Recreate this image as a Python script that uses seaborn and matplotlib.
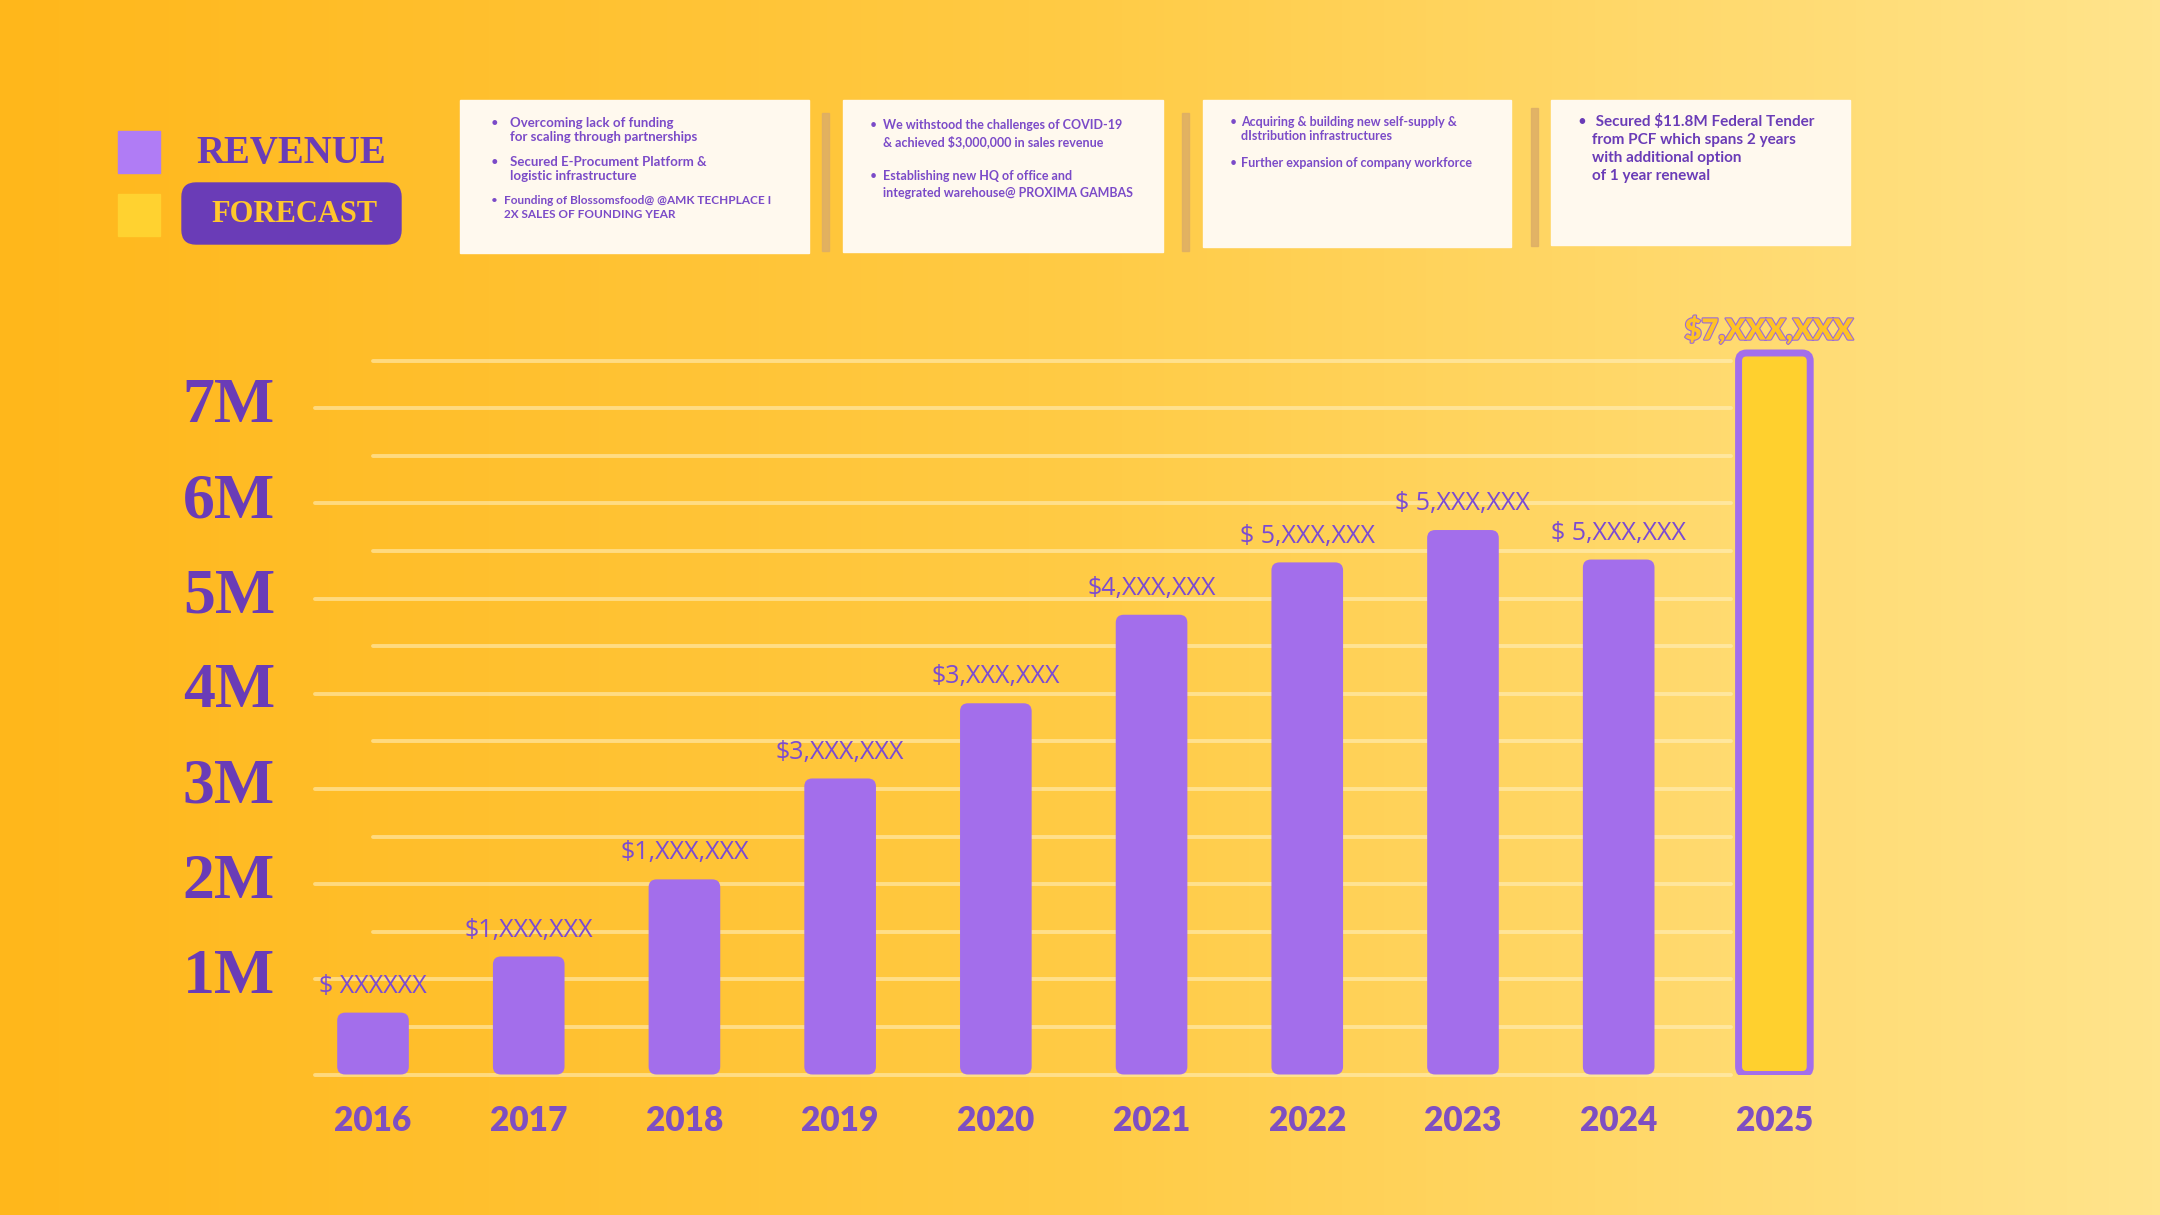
import numpy as np
import matplotlib
matplotlib.use("Agg")
import matplotlib.pyplot as plt
import seaborn as sns
import pandas as pd
from matplotlib.patches import FancyBboxPatch, Rectangle
import matplotlib.patheffects as pe
from matplotlib.colors import LinearSegmentedColormap
from matplotlib.transforms import ScaledTranslation

# ---------------- data ----------------
years = ["2016", "2017", "2018", "2019", "2020", "2021", "2022", "2023", "2024", "2025"]
revenue_m = [0.65, 1.24, 2.05, 3.11, 3.90, 4.83, 5.38, 5.72, 5.41, 7.58]
series = ["Revenue"] * 9 + ["Forecast"]
value_labels = ["$ XXXXXX", "$1,XXX,XXX", "$1,XXX,XXX", "$3,XXX,XXX", "$3,XXX,XXX",
                "$4,XXX,XXX", "$ 5,XXX,XXX", "$ 5,XXX,XXX", "$ 5,XXX,XXX", "$7,XXX,XXX"]
y_tick_values = [1, 2, 3, 4, 5, 6, 7]
y_tick_labels = ["1M", "2M", "3M", "4M", "5M", "6M", "7M"]
grid_values = [0, 0.5, 1, 1.5, 2, 2.5, 3, 3.5, 4, 4.5, 5, 5.5, 6, 6.5, 7, 7.5]
legend_labels = ["REVENUE", "FORECAST"]

box1_lines = [["Overcoming lack of funding", "for scaling through partnerships"],
              ["Secured E-Procument Platform &", "logistic infrastructure"],
              ["Founding of Blossomsfood@ @AMK TECHPLACE I", "2X SALES OF FOUNDING YEAR"]]
box2_lines = [["We withstood the challenges of COVID-19", "& achieved $3,000,000 in sales revenue"],
              ["Establishing new HQ of office and", "integrated warehouse@ PROXIMA GAMBAS"]]
box3_lines = [["Acquiring & building new self-supply &", "dIstribution infrastructures"],
              ["Further expansion of company workforce"]]
box4_lines = [[" Secured $11.8M Federal Tender", "from PCF which spans 2 years",
               "with additional option", "of 1 year renewal"]]

# ---------------- style ----------------
PURPLE_DARK = "#6A3CB7"
PURPLE_TXT = "#7B4BC8"
BAR_PURPLE = "#A36EEB"
FORECAST_YEL = "#FFD02E"

sns.set_theme(style="white")
plt.rcParams['font.family'] = ['Lato', 'DejaVu Sans']

fig = plt.figure(figsize=(21.6, 12.15), dpi=100)

# decoration layer in pixel coordinates
deco = fig.add_axes([0, 0, 1, 1], zorder=0)
deco.set_xlim(0, 2160)
deco.set_ylim(1215, 0)
deco.axis('off')
cmap = LinearSegmentedColormap.from_list('bg', ['#FFB71B', '#FFCB45', '#FFE48C'])
deco.imshow(np.linspace(0, 1, 512)[None, :], cmap=cmap, extent=[0, 2160, 1215, 0],
            aspect='auto', zorder=0)

# legend
deco.add_patch(Rectangle((118, 131), 42, 42, color='#B07CF5', zorder=2))
deco.text(196, 153, legend_labels[0], fontsize=28, family=['Liberation Serif'], weight='bold',
          color=PURPLE_DARK, va='center', ha='left', zorder=3)
deco.add_patch(Rectangle((118, 194), 42, 42, color='#FFD230', zorder=2))
deco.add_patch(FancyBboxPatch((182, 183), 219, 61, boxstyle='round,pad=0,rounding_size=14',
                              color=PURPLE_DARK, zorder=2))
deco.text(211, 215, legend_labels[1], fontsize=22, family=['Liberation Serif'], weight='bold',
          color='#FFC72C', va='center', ha='left', zorder=3)

# text boxes: (rect, groups, fontsizes per group, colour, bullet x, text x, group y, line step)
boxes = [((460, 100, 349, 153), box1_lines, [9.5, 9.5, 8.5], PURPLE_TXT, 491, [510, 510, 504],
          [123, 162, 200], 14),
         ((843, 100, 320, 152), box2_lines, [9, 9], PURPLE_TXT, 870, [883, 883], [125, 176], 17),
         ((1203, 100, 308, 147), box3_lines, [9, 9], PURPLE_TXT, 1230, [1241, 1241], [122, 163], 14),
         ((1551, 100, 299, 145), box4_lines, [11], PURPLE_DARK, 1577, [1592], [122], 18)]
for (bx, by, bw, bh), lines, fss, col, bullet_x, text_xs, ys, lh in boxes:
    deco.add_patch(Rectangle((bx, by), bw, bh, color='#FFF9EE', zorder=2))
    for grp, fs, tx, y0 in zip(lines, fss, text_xs, ys):
        deco.text(bullet_x, y0, "•", fontsize=fs, color=col, va='center', ha='left', zorder=3)
        for k, line in enumerate(grp):
            deco.text(tx, y0 + k * lh, line, fontsize=fs, weight='bold', color=col,
                      va='center', ha='left', zorder=3)

for sx, sy0, sy1 in [(822, 113, 251), (1182, 113, 251), (1531, 108, 246)]:
    deco.add_patch(Rectangle((sx, sy0), 7, sy1 - sy0, color='#DDAE66', alpha=0.85, zorder=2))

# ---------------- chart ----------------
ax = fig.add_axes([314 / 2160, (1215 - 1074.5) / 1215, (1832 - 314) / 2160, (1074.5 - 313) / 1215],
                  zorder=2)
ax.patch.set_alpha(0)

df = pd.DataFrame({'year': years, 'revenue': revenue_m, 'series': series})
bar_colors = [BAR_PURPLE if s == "Revenue" else FORECAST_YEL for s in series]
sns.barplot(data=df, x='year', y='revenue', hue='year', palette=bar_colors, legend=False,
            width=0.46, saturation=1, ax=ax)

XMIN, XMAX, YMAX = -0.379, 9.37, 8.0
ax.set_xlim(XMIN, XMAX)
ax.set_ylim(0, YMAX)
px_x = 1518 / (XMAX - XMIN)
px_y = 761.5 / YMAX
asp = px_x / px_y
r = 8 / px_x

for p, s in zip(list(ax.patches), series):
    x, y, w, h = p.get_x(), p.get_y(), p.get_width(), p.get_height()
    fc = p.get_facecolor()
    p.remove()
    if s == "Forecast":
        fb = FancyBboxPatch((x, y), w, h, boxstyle=f"round,pad=0,rounding_size={r}",
                            mutation_aspect=asp, fc=fc, ec=BAR_PURPLE, lw=5, zorder=3)
    else:
        fb = FancyBboxPatch((x, y), w, h, boxstyle=f"round,pad=0,rounding_size={r}",
                            mutation_aspect=asp, fc=fc, ec='none', zorder=3)
    ax.add_patch(fb)

for v in grid_values:
    start = -0.37 if float(v).is_integer() else 0.0
    ax.plot([start, 8.72], [v, v], color='#FFF2C6', alpha=0.55, lw=2.8,
            solid_capstyle='round', zorder=1, clip_on=False)

for i, (v, lbl, s) in enumerate(zip(revenue_m, value_labels, series)):
    if s == "Forecast":
        ax.annotate(lbl, (i, v), xytext=(-4, 6), textcoords='offset points', ha='center',
                    va='bottom', fontsize=21, weight='heavy', color='#FFC325',
                    family=['Lato', 'DejaVu Sans'],
                    path_effects=[pe.withStroke(linewidth=1.6, foreground='#9A6BDA')])
    else:
        ax.annotate(lbl, (i, v), xytext=(0, 10), textcoords='offset points', ha='center',
                    va='bottom', fontsize=18, color='#7B4BD2',
                    family=['Open Sans', 'DejaVu Sans'])

ax.set_yticks(y_tick_values)
ax.set_yticklabels(y_tick_labels, fontsize=46, family=['Liberation Serif'], weight='bold',
                   color=PURPLE_DARK)
ax.tick_params(axis='y', length=0, pad=28)
for lbl in ax.get_yticklabels():
    lbl.set_transform(lbl.get_transform() + ScaledTranslation(0, 6 / 72, fig.dpi_scale_trans))

ax.set_xticks(range(len(years)))
ax.set_xticklabels(years, fontsize=24, weight='heavy', color='#7E4FC2')
ax.tick_params(axis='x', length=0, pad=22)
ax.set_xlabel('')
ax.set_ylabel('')
for sp in ax.spines.values():
    sp.set_visible(False)
ax.grid(False)

fig.savefig('out.png', dpi=100)
